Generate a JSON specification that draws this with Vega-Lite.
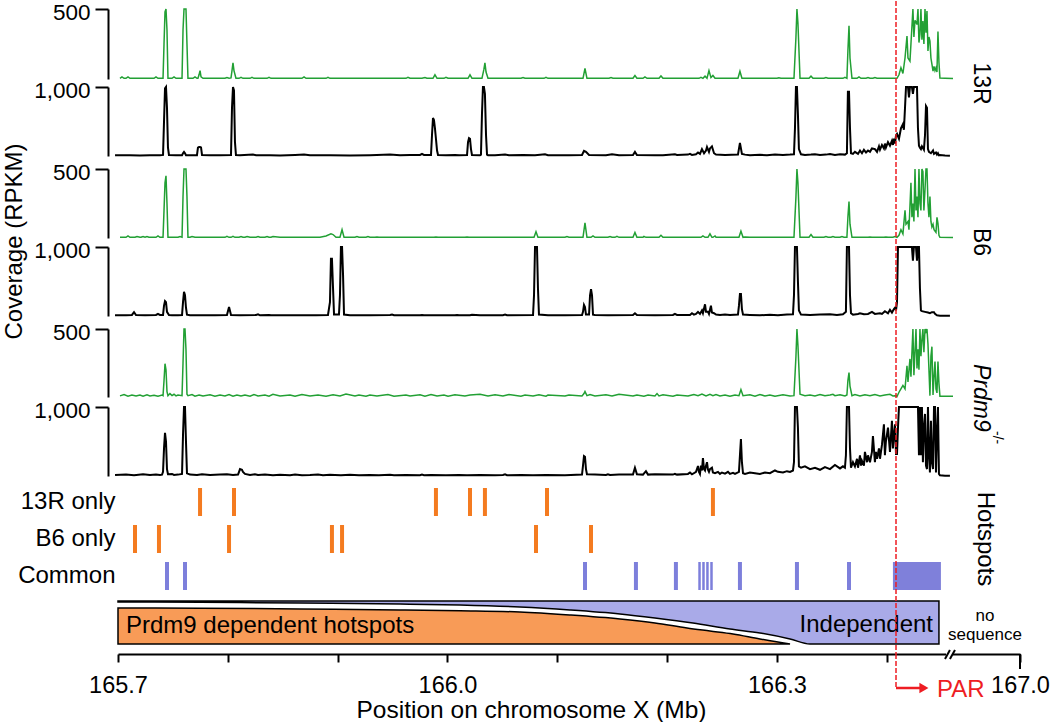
{
"$schema": "https://vega.github.io/schema/vega-lite/v6.json",
"width": 902, "height": 653,
"padding": {"left": 2, "top": 0, "right": 0, "bottom": 0},
"background": "white",
"config": {"view": {"stroke": null}, "font": "Liberation Sans",
 "axis": {"domainColor": "black", "tickColor": "black", "labelColor": "black", "titleColor": "black", "domainWidth": 2, "tickWidth": 2, "grid": false, "labelFont": "Liberation Sans", "titleFont": "Liberation Sans"}},
"datasets": {
"t1": [{"x":165.7018,"y":5},{"x":165.7036,"y":15},{"x":165.7055,"y":5},{"x":165.7073,"y":5},{"x":165.7091,"y":15},{"x":165.7109,"y":5},{"x":165.7328,"y":5},{"x":165.7346,"y":15},{"x":165.7364,"y":5},{"x":165.7410,"y":5},{"x":165.7419,"y":250},{"x":165.7428,"y":480},{"x":165.7437,"y":500},{"x":165.7446,"y":350},{"x":165.7455,"y":5},{"x":165.7492,"y":5},{"x":165.7510,"y":15},{"x":165.7528,"y":5},{"x":165.7583,"y":5},{"x":165.7592,"y":350},{"x":165.7601,"y":500},{"x":165.7619,"y":500},{"x":165.7628,"y":250},{"x":165.7637,"y":5},{"x":165.7683,"y":5},{"x":165.7701,"y":15},{"x":165.7719,"y":5},{"x":165.7728,"y":5},{"x":165.7738,"y":30},{"x":165.7747,"y":60},{"x":165.7756,"y":15},{"x":165.7774,"y":5},{"x":165.7974,"y":5},{"x":165.7992,"y":10},{"x":165.8011,"y":5},{"x":165.8029,"y":8},{"x":165.8038,"y":60},{"x":165.8047,"y":115},{"x":165.8056,"y":60},{"x":165.8074,"y":5},{"x":165.8102,"y":5},{"x":165.8120,"y":12},{"x":165.8138,"y":5},{"x":165.8202,"y":5},{"x":165.8220,"y":12},{"x":165.8238,"y":5},{"x":165.8357,"y":5},{"x":165.8375,"y":12},{"x":165.8393,"y":5},{"x":165.8675,"y":5},{"x":165.8694,"y":15},{"x":165.8712,"y":5},{"x":165.8894,"y":5},{"x":165.8912,"y":12},{"x":165.8930,"y":5},{"x":165.9622,"y":5},{"x":165.9640,"y":12},{"x":165.9659,"y":5},{"x":165.9768,"y":5},{"x":165.9795,"y":10},{"x":165.9813,"y":5},{"x":165.9868,"y":5},{"x":165.9886,"y":30},{"x":165.9905,"y":5},{"x":165.9968,"y":5},{"x":165.9986,"y":12},{"x":166.0005,"y":5},{"x":166.0187,"y":5},{"x":166.0205,"y":30},{"x":166.0223,"y":5},{"x":166.0314,"y":5},{"x":166.0332,"y":70},{"x":166.0341,"y":115},{"x":166.0351,"y":50},{"x":166.0369,"y":5},{"x":166.0669,"y":5},{"x":166.0688,"y":10},{"x":166.0706,"y":5},{"x":166.0879,"y":5},{"x":166.0897,"y":12},{"x":166.0915,"y":5},{"x":166.1234,"y":5},{"x":166.1252,"y":75},{"x":166.1270,"y":5},{"x":166.1471,"y":5},{"x":166.1489,"y":10},{"x":166.1507,"y":5},{"x":166.1689,"y":5},{"x":166.1707,"y":25},{"x":166.1725,"y":5},{"x":166.1780,"y":5},{"x":166.1798,"y":15},{"x":166.1817,"y":5},{"x":166.1926,"y":5},{"x":166.1944,"y":22},{"x":166.1962,"y":5},{"x":166.2290,"y":5},{"x":166.2308,"y":12},{"x":166.2326,"y":5},{"x":166.2345,"y":20},{"x":166.2363,"y":5},{"x":166.2381,"y":60},{"x":166.2399,"y":10},{"x":166.2417,"y":25},{"x":166.2436,"y":5},{"x":166.2645,"y":5},{"x":166.2663,"y":55},{"x":166.2681,"y":5},{"x":166.3000,"y":5},{"x":166.3018,"y":8},{"x":166.3036,"y":5},{"x":166.3155,"y":5},{"x":166.3173,"y":300},{"x":166.3182,"y":500},{"x":166.3191,"y":400},{"x":166.3210,"y":5},{"x":166.3292,"y":5},{"x":166.3310,"y":20},{"x":166.3328,"y":5},{"x":166.3428,"y":5},{"x":166.3446,"y":10},{"x":166.3465,"y":5},{"x":166.3601,"y":5},{"x":166.3619,"y":12},{"x":166.3637,"y":5},{"x":166.3646,"y":200},{"x":166.3656,"y":380},{"x":166.3665,"y":150},{"x":166.3683,"y":5},{"x":166.3729,"y":5},{"x":166.3747,"y":15},{"x":166.3765,"y":5},{"x":166.3811,"y":5},{"x":166.3829,"y":10},{"x":166.3847,"y":5},{"x":166.3874,"y":5},{"x":166.3892,"y":10},{"x":166.3911,"y":5},{"x":166.4075,"y":5},{"x":166.4093,"y":5},{"x":166.4111,"y":30},{"x":166.4129,"y":80},{"x":166.4147,"y":40},{"x":166.4166,"y":150},{"x":166.4184,"y":307},{"x":166.4193,"y":150},{"x":166.4211,"y":128},{"x":166.4220,"y":250},{"x":166.4238,"y":500},{"x":166.4247,"y":300},{"x":166.4257,"y":420},{"x":166.4275,"y":390},{"x":166.4284,"y":500},{"x":166.4293,"y":260},{"x":166.4302,"y":320},{"x":166.4311,"y":500},{"x":166.4320,"y":280},{"x":166.4329,"y":414},{"x":166.4338,"y":250},{"x":166.4348,"y":500},{"x":166.4357,"y":330},{"x":166.4366,"y":485},{"x":166.4375,"y":200},{"x":166.4384,"y":300},{"x":166.4393,"y":270},{"x":166.4402,"y":150},{"x":166.4411,"y":107},{"x":166.4421,"y":57},{"x":166.4430,"y":90},{"x":166.4439,"y":60},{"x":166.4448,"y":80},{"x":166.4457,"y":50},{"x":166.4466,"y":340},{"x":166.4475,"y":120},{"x":166.4484,"y":7},{"x":166.4530,"y":5},{"x":166.4603,"y":3}],
"t2": [{"x":165.6973,"y":10},{"x":165.7109,"y":12},{"x":165.7200,"y":8},{"x":165.7291,"y":12},{"x":165.7382,"y":10},{"x":165.7410,"y":15},{"x":165.7419,"y":500},{"x":165.7428,"y":980},{"x":165.7437,"y":1000},{"x":165.7446,"y":700},{"x":165.7455,"y":120},{"x":165.7464,"y":15},{"x":165.7528,"y":10},{"x":165.7583,"y":12},{"x":165.7592,"y":40},{"x":165.7601,"y":60},{"x":165.7610,"y":40},{"x":165.7619,"y":12},{"x":165.7719,"y":12},{"x":165.7728,"y":120},{"x":165.7738,"y":130},{"x":165.7747,"y":130},{"x":165.7756,"y":125},{"x":165.7765,"y":15},{"x":165.7838,"y":10},{"x":165.7929,"y":12},{"x":165.8029,"y":15},{"x":165.8038,"y":700},{"x":165.8047,"y":1000},{"x":165.8056,"y":950},{"x":165.8065,"y":200},{"x":165.8074,"y":15},{"x":165.8111,"y":10},{"x":165.8229,"y":20},{"x":165.8257,"y":10},{"x":165.8384,"y":12},{"x":165.8475,"y":8},{"x":165.8612,"y":15},{"x":165.8694,"y":20},{"x":165.8748,"y":10},{"x":165.8930,"y":12},{"x":165.9112,"y":8},{"x":165.9294,"y":12},{"x":165.9477,"y":20},{"x":165.9568,"y":10},{"x":165.9659,"y":15},{"x":165.9750,"y":15},{"x":165.9768,"y":30},{"x":165.9786,"y":15},{"x":165.9850,"y":15},{"x":165.9859,"y":300},{"x":165.9868,"y":550},{"x":165.9877,"y":520},{"x":165.9886,"y":400},{"x":165.9895,"y":250},{"x":165.9905,"y":80},{"x":165.9914,"y":15},{"x":165.9986,"y":10},{"x":166.0068,"y":15},{"x":166.0105,"y":10},{"x":166.0178,"y":15},{"x":166.0187,"y":200},{"x":166.0196,"y":260},{"x":166.0205,"y":250},{"x":166.0214,"y":100},{"x":166.0223,"y":15},{"x":166.0296,"y":12},{"x":166.0305,"y":20},{"x":166.0314,"y":600},{"x":166.0323,"y":1000},{"x":166.0332,"y":1000},{"x":166.0341,"y":900},{"x":166.0351,"y":300},{"x":166.0360,"y":20},{"x":166.0369,"y":12},{"x":166.0433,"y":10},{"x":166.0524,"y":20},{"x":166.0560,"y":10},{"x":166.0688,"y":15},{"x":166.0797,"y":10},{"x":166.0888,"y":25},{"x":166.0915,"y":10},{"x":166.1106,"y":12},{"x":166.1225,"y":15},{"x":166.1243,"y":75},{"x":166.1261,"y":60},{"x":166.1289,"y":15},{"x":166.1443,"y":10},{"x":166.1498,"y":25},{"x":166.1562,"y":12},{"x":166.1689,"y":15},{"x":166.1707,"y":60},{"x":166.1725,"y":15},{"x":166.1889,"y":10},{"x":166.1962,"y":12},{"x":166.2071,"y":25},{"x":166.2090,"y":15},{"x":166.2190,"y":20},{"x":166.2208,"y":30},{"x":166.2226,"y":15},{"x":166.2263,"y":25},{"x":166.2281,"y":50},{"x":166.2299,"y":30},{"x":166.2317,"y":100},{"x":166.2336,"y":40},{"x":166.2354,"y":80},{"x":166.2363,"y":130},{"x":166.2381,"y":60},{"x":166.2390,"y":110},{"x":166.2408,"y":140},{"x":166.2427,"y":40},{"x":166.2445,"y":20},{"x":166.2527,"y":15},{"x":166.2645,"y":20},{"x":166.2663,"y":190},{"x":166.2681,"y":30},{"x":166.2709,"y":20},{"x":166.2754,"y":10},{"x":166.2845,"y":18},{"x":166.2909,"y":12},{"x":166.2982,"y":20},{"x":166.3055,"y":15},{"x":166.3119,"y":20},{"x":166.3155,"y":25},{"x":166.3164,"y":400},{"x":166.3173,"y":1000},{"x":166.3182,"y":1000},{"x":166.3191,"y":600},{"x":166.3200,"y":100},{"x":166.3219,"y":25},{"x":166.3255,"y":15},{"x":166.3310,"y":20},{"x":166.3346,"y":25},{"x":166.3392,"y":15},{"x":166.3446,"y":20},{"x":166.3483,"y":30},{"x":166.3528,"y":15},{"x":166.3574,"y":25},{"x":166.3619,"y":20},{"x":166.3637,"y":40},{"x":166.3646,"y":930},{"x":166.3656,"y":930},{"x":166.3665,"y":400},{"x":166.3674,"y":40},{"x":166.3692,"y":30},{"x":166.3710,"y":60},{"x":166.3738,"y":30},{"x":166.3756,"y":80},{"x":166.3774,"y":40},{"x":166.3792,"y":90},{"x":166.3811,"y":50},{"x":166.3829,"y":80},{"x":166.3847,"y":60},{"x":166.3865,"y":110},{"x":166.3892,"y":100},{"x":166.3911,"y":60},{"x":166.3929,"y":140},{"x":166.3938,"y":90},{"x":166.3956,"y":160},{"x":166.3974,"y":110},{"x":166.3983,"y":180},{"x":166.3992,"y":120},{"x":166.4011,"y":200},{"x":166.4029,"y":150},{"x":166.4047,"y":220},{"x":166.4056,"y":160},{"x":166.4065,"y":250},{"x":166.4075,"y":180},{"x":166.4084,"y":300},{"x":166.4093,"y":320},{"x":166.4111,"y":250},{"x":166.4129,"y":400},{"x":166.4147,"y":460},{"x":166.4156,"y":380},{"x":166.4166,"y":700},{"x":166.4175,"y":1000},{"x":166.4193,"y":1000},{"x":166.4202,"y":850},{"x":166.4211,"y":1000},{"x":166.4229,"y":1000},{"x":166.4238,"y":900},{"x":166.4247,"y":1000},{"x":166.4275,"y":1000},{"x":166.4284,"y":400},{"x":166.4293,"y":150},{"x":166.4302,"y":120},{"x":166.4311,"y":100},{"x":166.4320,"y":140},{"x":166.4338,"y":90},{"x":166.4348,"y":300},{"x":166.4357,"y":725},{"x":166.4366,"y":700},{"x":166.4375,"y":100},{"x":166.4384,"y":60},{"x":166.4402,"y":40},{"x":166.4421,"y":80},{"x":166.4430,"y":30},{"x":166.4448,"y":50},{"x":166.4457,"y":20},{"x":166.4466,"y":40},{"x":166.4475,"y":10},{"x":166.4484,"y":15},{"x":166.4530,"y":8},{"x":166.4575,"y":5}],
"t3": [{"x":165.7018,"y":5},{"x":165.7073,"y":5},{"x":165.7091,"y":15},{"x":165.7109,"y":5},{"x":165.7155,"y":5},{"x":165.7173,"y":10},{"x":165.7200,"y":5},{"x":165.7209,"y":5},{"x":165.7228,"y":10},{"x":165.7246,"y":5},{"x":165.7264,"y":10},{"x":165.7282,"y":5},{"x":165.7346,"y":5},{"x":165.7364,"y":15},{"x":165.7382,"y":5},{"x":165.7410,"y":5},{"x":165.7419,"y":200},{"x":165.7428,"y":400},{"x":165.7437,"y":450},{"x":165.7446,"y":250},{"x":165.7455,"y":5},{"x":165.7546,"y":5},{"x":165.7565,"y":10},{"x":165.7583,"y":5},{"x":165.7592,"y":300},{"x":165.7601,"y":500},{"x":165.7619,"y":500},{"x":165.7628,"y":300},{"x":165.7637,"y":5},{"x":165.7656,"y":5},{"x":165.7674,"y":10},{"x":165.7701,"y":5},{"x":165.7974,"y":5},{"x":165.7992,"y":12},{"x":165.8011,"y":5},{"x":165.8029,"y":5},{"x":165.8047,"y":12},{"x":165.8065,"y":5},{"x":165.8102,"y":5},{"x":165.8120,"y":10},{"x":165.8138,"y":5},{"x":165.8156,"y":5},{"x":165.8175,"y":10},{"x":165.8202,"y":5},{"x":165.8257,"y":5},{"x":165.8275,"y":10},{"x":165.8293,"y":5},{"x":165.8338,"y":5},{"x":165.8357,"y":10},{"x":165.8375,"y":5},{"x":165.8393,"y":5},{"x":165.8411,"y":10},{"x":165.8475,"y":5},{"x":165.8839,"y":5},{"x":165.8894,"y":15},{"x":165.8939,"y":30},{"x":165.8958,"y":25},{"x":165.8985,"y":5},{"x":165.9021,"y":5},{"x":165.9040,"y":60},{"x":165.9058,"y":5},{"x":165.9158,"y":5},{"x":165.9176,"y":10},{"x":165.9194,"y":5},{"x":165.9258,"y":5},{"x":165.9276,"y":10},{"x":165.9294,"y":5},{"x":165.9340,"y":5},{"x":165.9358,"y":8},{"x":165.9376,"y":5},{"x":165.9877,"y":5},{"x":165.9895,"y":8},{"x":165.9914,"y":5},{"x":166.0159,"y":5},{"x":166.0178,"y":8},{"x":166.0196,"y":5},{"x":166.0788,"y":5},{"x":166.0806,"y":45},{"x":166.0824,"y":5},{"x":166.1070,"y":5},{"x":166.1088,"y":10},{"x":166.1106,"y":5},{"x":166.1234,"y":5},{"x":166.1252,"y":110},{"x":166.1270,"y":5},{"x":166.1307,"y":5},{"x":166.1325,"y":15},{"x":166.1343,"y":5},{"x":166.1461,"y":5},{"x":166.1480,"y":10},{"x":166.1498,"y":5},{"x":166.1525,"y":5},{"x":166.1543,"y":12},{"x":166.1562,"y":5},{"x":166.1689,"y":5},{"x":166.1707,"y":40},{"x":166.1725,"y":5},{"x":166.1780,"y":5},{"x":166.1789,"y":12},{"x":166.1807,"y":5},{"x":166.1926,"y":5},{"x":166.1944,"y":20},{"x":166.1962,"y":5},{"x":166.2308,"y":5},{"x":166.2326,"y":15},{"x":166.2345,"y":5},{"x":166.2372,"y":5},{"x":166.2390,"y":30},{"x":166.2408,"y":5},{"x":166.2417,"y":5},{"x":166.2436,"y":15},{"x":166.2445,"y":5},{"x":166.2654,"y":5},{"x":166.2672,"y":50},{"x":166.2691,"y":5},{"x":166.2709,"y":8},{"x":166.2754,"y":5},{"x":166.2891,"y":5},{"x":166.2909,"y":6},{"x":166.2936,"y":5},{"x":166.3000,"y":5},{"x":166.3018,"y":6},{"x":166.3036,"y":5},{"x":166.3155,"y":5},{"x":166.3173,"y":300},{"x":166.3182,"y":500},{"x":166.3191,"y":400},{"x":166.3210,"y":5},{"x":166.3292,"y":5},{"x":166.3310,"y":25},{"x":166.3328,"y":5},{"x":166.3428,"y":5},{"x":166.3446,"y":10},{"x":166.3465,"y":5},{"x":166.3492,"y":5},{"x":166.3510,"y":10},{"x":166.3528,"y":5},{"x":166.3574,"y":5},{"x":166.3592,"y":10},{"x":166.3610,"y":5},{"x":166.3637,"y":5},{"x":166.3646,"y":150},{"x":166.3656,"y":265},{"x":166.3665,"y":100},{"x":166.3683,"y":5},{"x":166.3829,"y":5},{"x":166.3847,"y":8},{"x":166.3865,"y":5},{"x":166.3974,"y":5},{"x":166.3992,"y":8},{"x":166.4011,"y":5},{"x":166.4056,"y":5},{"x":166.4075,"y":10},{"x":166.4093,"y":5},{"x":166.4111,"y":20},{"x":166.4129,"y":60},{"x":166.4147,"y":30},{"x":166.4166,"y":200},{"x":166.4175,"y":100},{"x":166.4193,"y":120},{"x":166.4202,"y":60},{"x":166.4220,"y":400},{"x":166.4229,"y":150},{"x":166.4238,"y":250},{"x":166.4247,"y":120},{"x":166.4257,"y":500},{"x":166.4266,"y":200},{"x":166.4275,"y":300},{"x":166.4284,"y":150},{"x":166.4293,"y":500},{"x":166.4302,"y":250},{"x":166.4311,"y":200},{"x":166.4320,"y":500},{"x":166.4329,"y":480},{"x":166.4338,"y":200},{"x":166.4348,"y":350},{"x":166.4357,"y":500},{"x":166.4366,"y":500},{"x":166.4375,"y":250},{"x":166.4384,"y":150},{"x":166.4393,"y":300},{"x":166.4402,"y":120},{"x":166.4411,"y":80},{"x":166.4421,"y":100},{"x":166.4430,"y":60},{"x":166.4448,"y":40},{"x":166.4457,"y":150},{"x":166.4466,"y":107},{"x":166.4475,"y":20},{"x":166.4484,"y":5},{"x":166.4603,"y":3}],
"t4": [{"x":165.6973,"y":10},{"x":165.7073,"y":12},{"x":165.7127,"y":15},{"x":165.7146,"y":55},{"x":165.7164,"y":15},{"x":165.7246,"y":10},{"x":165.7346,"y":15},{"x":165.7364,"y":30},{"x":165.7382,"y":15},{"x":165.7410,"y":15},{"x":165.7419,"y":150},{"x":165.7428,"y":215},{"x":165.7437,"y":200},{"x":165.7446,"y":60},{"x":165.7464,"y":15},{"x":165.7492,"y":12},{"x":165.7546,"y":10},{"x":165.7583,"y":15},{"x":165.7592,"y":200},{"x":165.7601,"y":350},{"x":165.7610,"y":300},{"x":165.7619,"y":120},{"x":165.7628,"y":20},{"x":165.7656,"y":12},{"x":165.7747,"y":10},{"x":165.7883,"y":12},{"x":165.7992,"y":15},{"x":165.8011,"y":130},{"x":165.8029,"y":15},{"x":165.8111,"y":10},{"x":165.8257,"y":15},{"x":165.8275,"y":25},{"x":165.8293,"y":10},{"x":165.8375,"y":15},{"x":165.8393,"y":10},{"x":165.8475,"y":12},{"x":165.8612,"y":10},{"x":165.8803,"y":12},{"x":165.8912,"y":15},{"x":165.8930,"y":200},{"x":165.8939,"y":830},{"x":165.8948,"y":830},{"x":165.8958,"y":400},{"x":165.8967,"y":20},{"x":165.9012,"y":20},{"x":165.9021,"y":300},{"x":165.9030,"y":1000},{"x":165.9040,"y":1000},{"x":165.9049,"y":600},{"x":165.9058,"y":20},{"x":165.9112,"y":12},{"x":165.9294,"y":10},{"x":165.9477,"y":15},{"x":165.9495,"y":20},{"x":165.9513,"y":10},{"x":165.9659,"y":12},{"x":165.9750,"y":10},{"x":165.9768,"y":15},{"x":165.9786,"y":10},{"x":166.0068,"y":12},{"x":166.0087,"y":15},{"x":166.0105,"y":10},{"x":166.0205,"y":10},{"x":166.0223,"y":18},{"x":166.0296,"y":10},{"x":166.0505,"y":12},{"x":166.0524,"y":20},{"x":166.0542,"y":10},{"x":166.0779,"y":15},{"x":166.0788,"y":300},{"x":166.0797,"y":1000},{"x":166.0806,"y":1000},{"x":166.0815,"y":1000},{"x":166.0824,"y":400},{"x":166.0833,"y":20},{"x":166.0915,"y":10},{"x":166.1070,"y":12},{"x":166.1225,"y":15},{"x":166.1234,"y":60},{"x":166.1243,"y":160},{"x":166.1252,"y":130},{"x":166.1261,"y":20},{"x":166.1289,"y":20},{"x":166.1298,"y":300},{"x":166.1307,"y":390},{"x":166.1316,"y":300},{"x":166.1325,"y":20},{"x":166.1343,"y":15},{"x":166.1461,"y":10},{"x":166.1689,"y":15},{"x":166.1707,"y":40},{"x":166.1725,"y":15},{"x":166.1889,"y":10},{"x":166.2053,"y":15},{"x":166.2071,"y":30},{"x":166.2090,"y":15},{"x":166.2208,"y":15},{"x":166.2226,"y":40},{"x":166.2244,"y":20},{"x":166.2263,"y":30},{"x":166.2281,"y":60},{"x":166.2299,"y":30},{"x":166.2317,"y":80},{"x":166.2326,"y":40},{"x":166.2345,"y":170},{"x":166.2354,"y":60},{"x":166.2372,"y":60},{"x":166.2381,"y":30},{"x":166.2399,"y":150},{"x":166.2408,"y":50},{"x":166.2427,"y":40},{"x":166.2445,"y":20},{"x":166.2481,"y":15},{"x":166.2527,"y":20},{"x":166.2572,"y":15},{"x":166.2645,"y":20},{"x":166.2654,"y":150},{"x":166.2663,"y":320},{"x":166.2672,"y":320},{"x":166.2681,"y":100},{"x":166.2691,"y":20},{"x":166.2754,"y":15},{"x":166.2845,"y":10},{"x":166.2936,"y":18},{"x":166.3009,"y":12},{"x":166.3091,"y":20},{"x":166.3146,"y":25},{"x":166.3155,"y":300},{"x":166.3164,"y":1000},{"x":166.3173,"y":1000},{"x":166.3182,"y":1000},{"x":166.3191,"y":500},{"x":166.3200,"y":80},{"x":166.3219,"y":20},{"x":166.3301,"y":15},{"x":166.3392,"y":20},{"x":166.3483,"y":25},{"x":166.3546,"y":15},{"x":166.3601,"y":25},{"x":166.3628,"y":60},{"x":166.3637,"y":1000},{"x":166.3646,"y":1000},{"x":166.3656,"y":1000},{"x":166.3665,"y":300},{"x":166.3674,"y":40},{"x":166.3692,"y":20},{"x":166.3738,"y":30},{"x":166.3756,"y":40},{"x":166.3792,"y":25},{"x":166.3829,"y":30},{"x":166.3865,"y":60},{"x":166.3892,"y":30},{"x":166.3938,"y":40},{"x":166.3956,"y":30},{"x":166.3983,"y":70},{"x":166.4011,"y":40},{"x":166.4029,"y":90},{"x":166.4047,"y":50},{"x":166.4065,"y":100},{"x":166.4075,"y":120},{"x":166.4084,"y":80},{"x":166.4093,"y":200},{"x":166.4102,"y":1000},{"x":166.4166,"y":1000},{"x":166.4229,"y":1000},{"x":166.4238,"y":800},{"x":166.4247,"y":1000},{"x":166.4266,"y":1000},{"x":166.4275,"y":800},{"x":166.4284,"y":1000},{"x":166.4293,"y":1000},{"x":166.4302,"y":400},{"x":166.4311,"y":80},{"x":166.4320,"y":70},{"x":166.4348,"y":60},{"x":166.4375,"y":50},{"x":166.4393,"y":40},{"x":166.4411,"y":55},{"x":166.4430,"y":55},{"x":166.4439,"y":30},{"x":166.4457,"y":10},{"x":166.4484,"y":5},{"x":166.4575,"y":5}],
"t5": [{"x":165.7018,"y":8},{"x":165.7055,"y":18},{"x":165.7091,"y":6},{"x":165.7127,"y":14},{"x":165.7164,"y":8},{"x":165.7200,"y":15},{"x":165.7228,"y":6},{"x":165.7264,"y":16},{"x":165.7291,"y":8},{"x":165.7328,"y":12},{"x":165.7364,"y":6},{"x":165.7401,"y":15},{"x":165.7410,"y":10},{"x":165.7419,"y":120},{"x":165.7428,"y":245},{"x":165.7437,"y":200},{"x":165.7446,"y":40},{"x":165.7455,"y":10},{"x":165.7473,"y":25},{"x":165.7492,"y":10},{"x":165.7510,"y":20},{"x":165.7528,"y":8},{"x":165.7546,"y":15},{"x":165.7583,"y":10},{"x":165.7592,"y":250},{"x":165.7601,"y":500},{"x":165.7610,"y":500},{"x":165.7619,"y":350},{"x":165.7628,"y":20},{"x":165.7637,"y":10},{"x":165.7674,"y":18},{"x":165.7701,"y":6},{"x":165.7738,"y":15},{"x":165.7774,"y":8},{"x":165.7838,"y":16},{"x":165.7883,"y":6},{"x":165.7929,"y":14},{"x":165.7974,"y":8},{"x":165.8011,"y":18},{"x":165.8047,"y":6},{"x":165.8083,"y":15},{"x":165.8120,"y":8},{"x":165.8156,"y":14},{"x":165.8202,"y":6},{"x":165.8238,"y":18},{"x":165.8275,"y":8},{"x":165.8338,"y":14},{"x":165.8375,"y":6},{"x":165.8411,"y":20},{"x":165.8475,"y":8},{"x":165.8566,"y":15},{"x":165.8612,"y":6},{"x":165.8675,"y":18},{"x":165.8748,"y":8},{"x":165.8821,"y":14},{"x":165.8894,"y":6},{"x":165.8958,"y":16},{"x":165.9021,"y":8},{"x":165.9076,"y":22},{"x":165.9158,"y":8},{"x":165.9194,"y":14},{"x":165.9258,"y":6},{"x":165.9294,"y":15},{"x":165.9358,"y":8},{"x":165.9458,"y":18},{"x":165.9513,"y":6},{"x":165.9622,"y":14},{"x":165.9659,"y":8},{"x":165.9750,"y":16},{"x":165.9795,"y":6},{"x":165.9850,"y":18},{"x":165.9905,"y":8},{"x":165.9968,"y":14},{"x":166.0005,"y":6},{"x":166.0068,"y":16},{"x":166.0159,"y":8},{"x":166.0205,"y":14},{"x":166.0296,"y":20},{"x":166.0369,"y":8},{"x":166.0433,"y":16},{"x":166.0505,"y":8},{"x":166.0560,"y":18},{"x":166.0669,"y":6},{"x":166.0706,"y":14},{"x":166.0779,"y":8},{"x":166.0833,"y":16},{"x":166.0897,"y":6},{"x":166.0915,"y":14},{"x":166.1070,"y":8},{"x":166.1106,"y":15},{"x":166.1225,"y":8},{"x":166.1243,"y":25},{"x":166.1252,"y":40},{"x":166.1270,"y":10},{"x":166.1298,"y":18},{"x":166.1343,"y":8},{"x":166.1443,"y":16},{"x":166.1498,"y":8},{"x":166.1562,"y":20},{"x":166.1689,"y":8},{"x":166.1725,"y":15},{"x":166.1789,"y":6},{"x":166.1826,"y":14},{"x":166.1889,"y":8},{"x":166.1908,"y":25},{"x":166.1926,"y":8},{"x":166.1962,"y":16},{"x":166.2053,"y":6},{"x":166.2090,"y":15},{"x":166.2190,"y":8},{"x":166.2244,"y":18},{"x":166.2281,"y":10},{"x":166.2317,"y":22},{"x":166.2354,"y":8},{"x":166.2390,"y":20},{"x":166.2417,"y":10},{"x":166.2445,"y":18},{"x":166.2481,"y":8},{"x":166.2527,"y":14},{"x":166.2572,"y":6},{"x":166.2618,"y":15},{"x":166.2654,"y":10},{"x":166.2672,"y":55},{"x":166.2691,"y":10},{"x":166.2754,"y":16},{"x":166.2800,"y":6},{"x":166.2845,"y":18},{"x":166.2891,"y":8},{"x":166.2936,"y":15},{"x":166.2982,"y":6},{"x":166.3055,"y":16},{"x":166.3119,"y":8},{"x":166.3155,"y":10},{"x":166.3173,"y":300},{"x":166.3182,"y":500},{"x":166.3191,"y":380},{"x":166.3210,"y":20},{"x":166.3255,"y":10},{"x":166.3301,"y":15},{"x":166.3346,"y":8},{"x":166.3392,"y":18},{"x":166.3437,"y":10},{"x":166.3483,"y":14},{"x":166.3510,"y":20},{"x":166.3528,"y":10},{"x":166.3574,"y":16},{"x":166.3619,"y":8},{"x":166.3637,"y":15},{"x":166.3646,"y":120},{"x":166.3656,"y":180},{"x":166.3665,"y":80},{"x":166.3683,"y":10},{"x":166.3710,"y":18},{"x":166.3756,"y":8},{"x":166.3801,"y":16},{"x":166.3847,"y":10},{"x":166.3892,"y":18},{"x":166.3938,"y":8},{"x":166.3983,"y":14},{"x":166.4029,"y":20},{"x":166.4056,"y":8},{"x":166.4084,"y":10},{"x":166.4093,"y":3},{"x":166.4111,"y":35},{"x":166.4129,"y":60},{"x":166.4147,"y":85},{"x":166.4166,"y":60},{"x":166.4184,"y":230},{"x":166.4193,"y":110},{"x":166.4211,"y":280},{"x":166.4220,"y":150},{"x":166.4238,"y":500},{"x":166.4247,"y":160},{"x":166.4266,"y":500},{"x":166.4275,"y":210},{"x":166.4284,"y":350},{"x":166.4293,"y":200},{"x":166.4302,"y":500},{"x":166.4311,"y":300},{"x":166.4320,"y":420},{"x":166.4329,"y":500},{"x":166.4338,"y":330},{"x":166.4348,"y":500},{"x":166.4357,"y":480},{"x":166.4366,"y":500},{"x":166.4375,"y":390},{"x":166.4384,"y":200},{"x":166.4393,"y":10},{"x":166.4402,"y":300},{"x":166.4411,"y":370},{"x":166.4421,"y":15},{"x":166.4430,"y":150},{"x":166.4439,"y":260},{"x":166.4448,"y":60},{"x":166.4457,"y":30},{"x":166.4466,"y":260},{"x":166.4475,"y":100},{"x":166.4484,"y":5},{"x":166.4530,"y":5},{"x":166.4603,"y":5}],
"t6": [{"x":165.6973,"y":15},{"x":165.7073,"y":20},{"x":165.7146,"y":10},{"x":165.7228,"y":25},{"x":165.7291,"y":15},{"x":165.7346,"y":20},{"x":165.7382,"y":15},{"x":165.7401,"y":20},{"x":165.7410,"y":60},{"x":165.7419,"y":400},{"x":165.7428,"y":625},{"x":165.7437,"y":500},{"x":165.7446,"y":100},{"x":165.7455,"y":25},{"x":165.7492,"y":30},{"x":165.7510,"y":15},{"x":165.7546,"y":20},{"x":165.7583,"y":30},{"x":165.7592,"y":600},{"x":165.7601,"y":1000},{"x":165.7610,"y":1000},{"x":165.7619,"y":500},{"x":165.7628,"y":40},{"x":165.7656,"y":20},{"x":165.7719,"y":15},{"x":165.7765,"y":25},{"x":165.7838,"y":15},{"x":165.7929,"y":20},{"x":165.7992,"y":25},{"x":165.8047,"y":15},{"x":165.8093,"y":20},{"x":165.8102,"y":60},{"x":165.8111,"y":100},{"x":165.8129,"y":90},{"x":165.8138,"y":60},{"x":165.8156,"y":30},{"x":165.8202,"y":15},{"x":165.8247,"y":25},{"x":165.8275,"y":15},{"x":165.8338,"y":20},{"x":165.8411,"y":12},{"x":165.8475,"y":18},{"x":165.8566,"y":12},{"x":165.8612,"y":20},{"x":165.8675,"y":12},{"x":165.8748,"y":15},{"x":165.8821,"y":22},{"x":165.8867,"y":12},{"x":165.8930,"y":18},{"x":165.8976,"y":15},{"x":165.9030,"y":12},{"x":165.9112,"y":18},{"x":165.9194,"y":10},{"x":165.9294,"y":15},{"x":165.9376,"y":12},{"x":165.9477,"y":18},{"x":165.9513,"y":10},{"x":165.9622,"y":15},{"x":165.9750,"y":12},{"x":165.9768,"y":20},{"x":165.9786,"y":12},{"x":165.9850,"y":15},{"x":165.9986,"y":12},{"x":166.0105,"y":15},{"x":166.0178,"y":10},{"x":166.0296,"y":15},{"x":166.0433,"y":12},{"x":166.0505,"y":15},{"x":166.0524,"y":25},{"x":166.0542,"y":12},{"x":166.0669,"y":15},{"x":166.0779,"y":10},{"x":166.0897,"y":15},{"x":166.1070,"y":12},{"x":166.1225,"y":20},{"x":166.1234,"y":150},{"x":166.1243,"y":290},{"x":166.1252,"y":280},{"x":166.1261,"y":100},{"x":166.1270,"y":25},{"x":166.1343,"y":20},{"x":166.1443,"y":15},{"x":166.1461,"y":25},{"x":166.1480,"y":15},{"x":166.1562,"y":20},{"x":166.1689,"y":20},{"x":166.1707,"y":120},{"x":166.1725,"y":25},{"x":166.1780,"y":20},{"x":166.1807,"y":70},{"x":166.1826,"y":20},{"x":166.1889,"y":25},{"x":166.2053,"y":20},{"x":166.2071,"y":30},{"x":166.2090,"y":20},{"x":166.2190,"y":30},{"x":166.2208,"y":50},{"x":166.2226,"y":25},{"x":166.2244,"y":40},{"x":166.2263,"y":60},{"x":166.2281,"y":145},{"x":166.2290,"y":60},{"x":166.2299,"y":30},{"x":166.2308,"y":150},{"x":166.2317,"y":80},{"x":166.2326,"y":260},{"x":166.2336,"y":100},{"x":166.2345,"y":80},{"x":166.2354,"y":150},{"x":166.2363,"y":200},{"x":166.2372,"y":90},{"x":166.2381,"y":60},{"x":166.2390,"y":100},{"x":166.2408,"y":120},{"x":166.2417,"y":50},{"x":166.2436,"y":40},{"x":166.2463,"y":60},{"x":166.2481,"y":30},{"x":166.2499,"y":50},{"x":166.2527,"y":35},{"x":166.2554,"y":60},{"x":166.2572,"y":30},{"x":166.2600,"y":45},{"x":166.2618,"y":30},{"x":166.2654,"y":60},{"x":166.2663,"y":300},{"x":166.2672,"y":535},{"x":166.2681,"y":200},{"x":166.2691,"y":40},{"x":166.2709,"y":30},{"x":166.2754,"y":50},{"x":166.2800,"y":40},{"x":166.2845,"y":30},{"x":166.2891,"y":50},{"x":166.2936,"y":40},{"x":166.2982,"y":80},{"x":166.3009,"y":60},{"x":166.3055,"y":50},{"x":166.3091,"y":70},{"x":166.3119,"y":60},{"x":166.3146,"y":80},{"x":166.3155,"y":200},{"x":166.3164,"y":1000},{"x":166.3173,"y":1000},{"x":166.3182,"y":1000},{"x":166.3191,"y":700},{"x":166.3200,"y":140},{"x":166.3219,"y":120},{"x":166.3255,"y":140},{"x":166.3301,"y":100},{"x":166.3346,"y":120},{"x":166.3392,"y":90},{"x":166.3437,"y":130},{"x":166.3483,"y":100},{"x":166.3528,"y":160},{"x":166.3574,"y":110},{"x":166.3601,"y":140},{"x":166.3619,"y":120},{"x":166.3628,"y":300},{"x":166.3637,"y":1000},{"x":166.3646,"y":1000},{"x":166.3656,"y":1000},{"x":166.3665,"y":400},{"x":166.3674,"y":120},{"x":166.3692,"y":200},{"x":166.3710,"y":140},{"x":166.3729,"y":250},{"x":166.3738,"y":120},{"x":166.3756,"y":300},{"x":166.3765,"y":150},{"x":166.3774,"y":220},{"x":166.3792,"y":150},{"x":166.3801,"y":350},{"x":166.3820,"y":200},{"x":166.3829,"y":300},{"x":166.3847,"y":200},{"x":166.3865,"y":350},{"x":166.3874,"y":580},{"x":166.3892,"y":200},{"x":166.3901,"y":350},{"x":166.3911,"y":250},{"x":166.3929,"y":400},{"x":166.3938,"y":250},{"x":166.3956,"y":450},{"x":166.3974,"y":750},{"x":166.3983,"y":300},{"x":166.3992,"y":500},{"x":166.4011,"y":700},{"x":166.4029,"y":350},{"x":166.4047,"y":800},{"x":166.4056,"y":400},{"x":166.4065,"y":600},{"x":166.4075,"y":750},{"x":166.4084,"y":320},{"x":166.4093,"y":320},{"x":166.4102,"y":700},{"x":166.4111,"y":1000},{"x":166.4166,"y":1000},{"x":166.4211,"y":1000},{"x":166.4257,"y":1000},{"x":166.4284,"y":1000},{"x":166.4293,"y":300},{"x":166.4302,"y":1000},{"x":166.4311,"y":300},{"x":166.4320,"y":1000},{"x":166.4329,"y":200},{"x":166.4338,"y":700},{"x":166.4348,"y":900},{"x":166.4357,"y":150},{"x":166.4366,"y":100},{"x":166.4375,"y":1000},{"x":166.4384,"y":300},{"x":166.4393,"y":50},{"x":166.4402,"y":800},{"x":166.4411,"y":200},{"x":166.4421,"y":100},{"x":166.4430,"y":1000},{"x":166.4439,"y":1000},{"x":166.4448,"y":50},{"x":166.4457,"y":600},{"x":166.4466,"y":1000},{"x":166.4475,"y":30},{"x":166.4484,"y":10},{"x":166.4530,"y":5},{"x":166.4575,"y":5}],
"hot": [{"x":165.7747,"r":"13R only"},{"x":165.8056,"r":"13R only"},{"x":165.9895,"r":"13R only"},{"x":166.0205,"r":"13R only"},{"x":166.0341,"r":"13R only"},{"x":166.0906,"r":"13R only"},{"x":166.2417,"r":"13R only"},{"x":165.7155,"r":"B6 only"},{"x":165.7373,"r":"B6 only"},{"x":165.8011,"r":"B6 only"},{"x":165.8948,"r":"B6 only"},{"x":165.9040,"r":"B6 only"},{"x":166.0806,"r":"B6 only"},{"x":166.1307,"r":"B6 only"},{"x":165.7446,"r":"Common"},{"x":165.7610,"r":"Common"},{"x":166.1252,"r":"Common"},{"x":166.1716,"r":"Common"},{"x":166.2080,"r":"Common"},{"x":166.2295,"r":"Common"},{"x":166.2331,"r":"Common"},{"x":166.2367,"r":"Common"},{"x":166.2404,"r":"Common"},{"x":166.2663,"r":"Common"},{"x":166.3182,"r":"Common"},{"x":166.3656,"r":"Common"}],
"orange": [{"x":165.7000,"y":36},{"x":165.7747,"y":35.8},{"x":165.8657,"y":35},{"x":165.9568,"y":34},{"x":166.0114,"y":33.2},{"x":166.0660,"y":32},{"x":166.1115,"y":29},{"x":166.1571,"y":25},{"x":166.1889,"y":21},{"x":166.2181,"y":16},{"x":166.2390,"y":13},{"x":166.2600,"y":10},{"x":166.2845,"y":5},{"x":166.2982,"y":2.5},{"x":166.3119,"y":0}],
"blue": [{"x":165.7000,"y":42,"y2":43},{"x":165.7747,"y":41.7,"y2":43},{"x":165.8657,"y":41,"y2":43},{"x":165.9568,"y":40,"y2":43},{"x":166.0114,"y":39,"y2":43},{"x":166.0660,"y":37,"y2":43},{"x":166.1115,"y":34,"y2":43},{"x":166.1571,"y":30,"y2":43},{"x":166.1889,"y":26,"y2":43},{"x":166.2235,"y":21,"y2":43},{"x":166.2572,"y":15,"y2":43},{"x":166.2845,"y":11,"y2":43},{"x":166.3119,"y":5,"y2":43},{"x":166.3301,"y":0,"y2":43},{"x":166.4475,"y":0,"y2":43}]
},
"encoding": {
 "x": {"field": "x", "type": "quantitative", "scale": {"domain": [165.7, 166.5213], "nice": false, "zero": false},
  "axis": {"values": [165.7, 165.8, 165.9, 166.0, 166.1, 166.2, 166.3, 166.4, 166.5213],
   "labelExpr": "abs(datum.value-165.7)<0.001 ? '165.7' : abs(datum.value-166)<0.001 ? '166.0' : abs(datum.value-166.3)<0.001 ? '166.3' : datum.value > 166.5 ? '167.0' : ''",
   "tickSize": 8, "labelFontSize": 23.5, "labelPadding": 11, "labelFlush": false, "labelOverlap": false,
   "title": "Position on chromosome X (Mb)", "titleFontSize": 24.5, "titleFontWeight": "normal", "titleX": 413, "titleY": 44, "titleBaseline": "top", "titleAlign": "center"}}
},
"layer": [
 {"data": {"name": "t1"}, "mark": {"type": "line", "color": "#22A034", "strokeWidth": 1.5},
  "encoding": {"y": {"field": "y", "type": "quantitative", "scale": {"domain": [0, 500], "range": [78, 8], "nice": false},
   "axis": {"orient": "left", "values": [500], "format": ",d", "offset": 10, "tickSize": 13, "labelPadding": 5, "labelFontSize": 22.5, "labelOffset": 3, "title": null}}}},
 {"layer": [
   {"data": {"name": "t2"}, "mark": {"type": "line", "color": "black", "strokeWidth": 2}},
   {"data": {"values": [{"x": 166.4858, "y": 1051, "t": "13R"}]}, "mark": {"type": "text", "angle": 90, "fontSize": 23, "align": "center", "baseline": "middle"}, "encoding": {"text": {"field": "t"}}}
  ],
  "encoding": {"y": {"field": "y", "type": "quantitative", "scale": {"domain": [0, 1000], "range": [155, 86], "nice": false},
   "axis": {"orient": "left", "values": [1000], "format": ",d", "offset": 10, "tickSize": 13, "labelPadding": 5, "labelFontSize": 22.5, "labelOffset": 3, "title": null}}}},
 {"data": {"name": "t3"}, "mark": {"type": "line", "color": "#22A034", "strokeWidth": 1.5},
  "encoding": {"y": {"field": "y", "type": "quantitative", "scale": {"domain": [0, 500], "range": [237, 168], "nice": false},
   "axis": {"orient": "left", "values": [500], "format": ",d", "offset": 10, "tickSize": 13, "labelPadding": 5, "labelFontSize": 22.5, "labelOffset": 3,
    "title": "Coverage (RPKM)", "titleFontSize": 24, "titleFontWeight": "normal", "titleX": -94, "titleY": 240, "titleAngle": 270, "titleBaseline": "middle", "titleAlign": "center"}}}},
 {"layer": [
   {"data": {"name": "t4"}, "mark": {"type": "line", "color": "black", "strokeWidth": 2}},
   {"data": {"values": [{"x": 166.4858, "y": 1072, "t": "B6"}]}, "mark": {"type": "text", "angle": 90, "fontSize": 23, "align": "center", "baseline": "middle"}, "encoding": {"text": {"field": "t"}}}
  ],
  "encoding": {"y": {"field": "y", "type": "quantitative", "scale": {"domain": [0, 1000], "range": [315, 246], "nice": false},
   "axis": {"orient": "left", "values": [1000], "format": ",d", "offset": 10, "tickSize": 13, "labelPadding": 5, "labelFontSize": 22.5, "labelOffset": 3, "title": null}}}},
 {"layer": [
   {"data": {"name": "t5"}, "mark": {"type": "line", "color": "#22A034", "strokeWidth": 1.5}},
   {"data": {"values": [{"x": 166.4858, "y": 243, "t": "Prdm9"}]}, "mark": {"type": "text", "angle": 90, "fontSize": 23, "fontStyle": "italic", "align": "left", "baseline": "middle"}, "encoding": {"text": {"field": "t"}}},
   {"data": {"values": [{"x": 166.5003, "y": -250, "t": "-/-"}]}, "mark": {"type": "text", "angle": 90, "fontSize": 14, "align": "left", "baseline": "middle"}, "encoding": {"text": {"field": "t"}}}
  ],
  "encoding": {"y": {"field": "y", "type": "quantitative", "scale": {"domain": [0, 500], "range": [396, 328], "nice": false},
   "axis": {"orient": "left", "values": [500], "format": ",d", "offset": 10, "tickSize": 13, "labelPadding": 5, "labelFontSize": 22.5, "labelOffset": 3, "title": null}}}},
 {"data": {"name": "t6"}, "mark": {"type": "line", "color": "black", "strokeWidth": 2},
  "encoding": {"y": {"field": "y", "type": "quantitative", "scale": {"domain": [0, 1000], "range": [475, 406], "nice": false},
   "axis": {"orient": "left", "values": [1000], "format": ",d", "offset": 10, "tickSize": 13, "labelPadding": 5, "labelFontSize": 22.5, "labelOffset": 3, "title": null}}}},
 {"layer": [
   {"data": {"name": "hot"}, "transform": [{"filter": "datum.x < 166.229 || datum.x > 166.241"}], "mark": {"type": "tick", "thickness": 4, "size": 28, "opacity": 1},
    "encoding": {"color": {"field": "r", "type": "nominal", "scale": {"domain": ["13R only", "B6 only", "Common"], "range": ["#F47B20", "#F47B20", "#7D7FDB"]}, "legend": null}}},
   {"data": {"name": "hot"}, "transform": [{"filter": "datum.x >= 166.229 && datum.x <= 166.241"}], "mark": {"type": "tick", "thickness": 2.5, "size": 28, "opacity": 1},
    "encoding": {"color": {"field": "r", "type": "nominal", "legend": null}}},
   {"data": {"values": [{"x": 166.4056, "x2": 166.4493, "r": "Common"}]}, "mark": {"type": "rect", "color": "#7F80DA"}, "encoding": {"x2": {"field": "x2"}}},
   {"data": {"values": [{"x": 166.4894, "r": "B6 only", "t": "Hotspots"}]}, "mark": {"type": "text", "angle": 90, "fontSize": 24, "align": "center", "baseline": "middle"}, "encoding": {"text": {"field": "t"}}}
  ],
  "encoding": {"y": {"field": "r", "type": "nominal", "scale": {"domain": ["13R only", "B6 only", "Common"], "range": [482.5, 593.5], "paddingInner": 0.243, "paddingOuter": 0.1216},
   "axis": {"orient": "left", "domain": false, "ticks": false, "labelPadding": 3, "labelFontSize": 24, "title": null, "offset": 0}}}},
 {"layer": [
   {"data": {"name": "orange"}, "mark": {"type": "area", "fill": "#F89B57", "fillOpacity": 1, "stroke": "black", "strokeWidth": 1.5, "interpolate": "monotone"}, "encoding": {"y2": {"datum": 0}}},
   {"data": {"name": "blue"}, "mark": {"type": "area", "fill": "#A9AAE8", "fillOpacity": 1, "stroke": "black", "strokeWidth": 1.5, "interpolate": "monotone"}, "encoding": {"y2": {"field": "y2"}}},
   {"data": {"values": [{"x": 165.7073, "y": 11, "t": "Prdm9 dependent hotspots"}]}, "mark": {"type": "text", "fontSize": 24, "align": "left", "baseline": "alphabetic"}, "encoding": {"text": {"field": "t"}}},
   {"data": {"values": [{"x": 166.4421, "y": 12, "t": "Independent"}]}, "mark": {"type": "text", "fontSize": 24, "align": "right", "baseline": "alphabetic"}, "encoding": {"text": {"field": "t"}}},
   {"data": {"values": [{"x": 166.4894, "y": 23, "t": "no"}, {"x": 166.4894, "y": 4, "t": "sequence"}]}, "mark": {"type": "text", "fontSize": 17, "align": "center", "baseline": "alphabetic"}, "encoding": {"text": {"field": "t"}}},
   {"data": {"values": [{"x": 166.4539, "x2": 166.4603, "y": -10}]}, "mark": {"type": "rule", "color": "white", "strokeWidth": 4}, "encoding": {"x2": {"field": "x2"}}},
   {"data": {"values": [{"x": 166.4530, "x2": 166.4575, "y": -15, "y2": -6}, {"x": 166.4575, "x2": 166.4621, "y": -15, "y2": -6}]}, "mark": {"type": "rule", "color": "black", "strokeWidth": 2}, "encoding": {"x2": {"field": "x2"}, "y2": {"field": "y2"}}},
   {"data": {"values": [{"x": 166.5213, "y": -10, "y2": -25}]}, "mark": {"type": "rule", "color": "black", "strokeWidth": 2}, "encoding": {"y2": {"field": "y2"}}},
   {"data": {"values": [{"x": 166.4084, "y": -10, "y2": -44}]}, "mark": {"type": "rule", "color": "#EE1D23", "strokeWidth": 1.5, "strokeDash": [5, 2]}, "encoding": {"y2": {"field": "y2"}}},
   {"data": {"values": [{"x": 166.4084, "x2": 166.4311, "y": -44}]}, "mark": {"type": "rule", "color": "#EE1D23", "strokeWidth": 2.5}, "encoding": {"x2": {"field": "x2"}}},
   {"data": {"values": [{"x": 166.4338, "y": -44}]}, "mark": {"type": "point", "shape": "triangle-right", "filled": true, "color": "#EE1D23", "size": 110, "opacity": 1}},
   {"data": {"values": [{"x": 166.4457, "y": -46, "t": "PAR"}]}, "mark": {"type": "text", "fontSize": 24, "align": "left", "baseline": "middle", "color": "#EE1D23"}, "encoding": {"text": {"field": "t"}}}
  ],
  "encoding": {"y": {"field": "y", "type": "quantitative", "scale": {"domain": [0, 43], "range": [643, 600], "nice": false, "zero": false}, "axis": null}}},
 {"data": {"values": [{"x": 166.4084}]}, "mark": {"type": "rule", "color": "#EE1D23", "strokeWidth": 1.5, "strokeDash": [5, 2]}}
],
"resolve": {"scale": {"y": "independent"}}
}
